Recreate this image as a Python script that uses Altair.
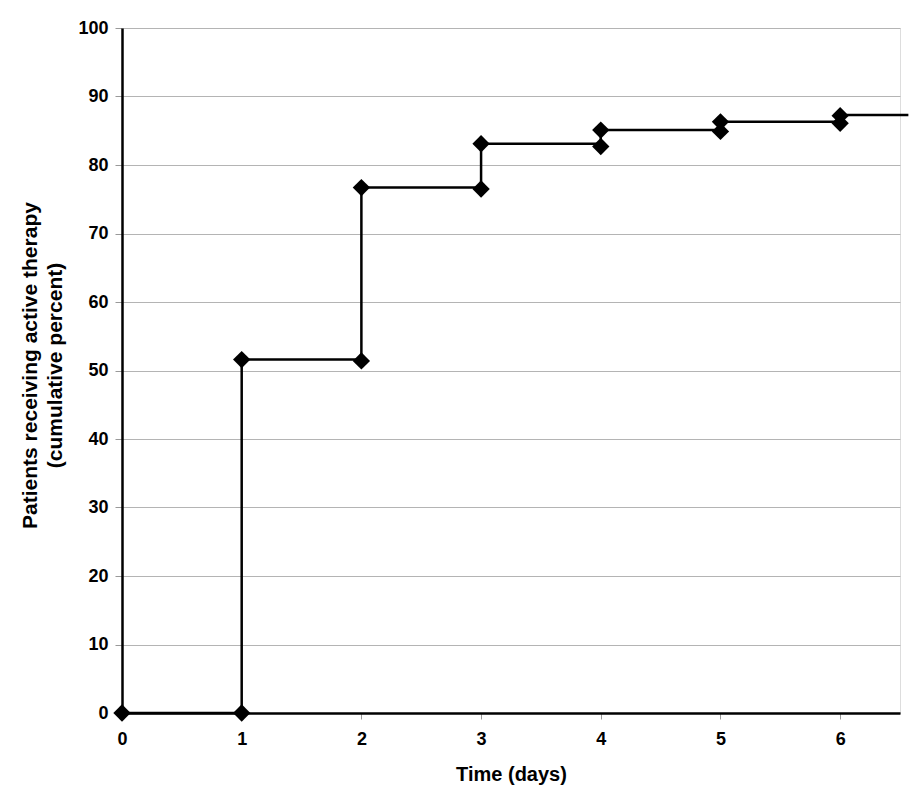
import altair as alt
import pandas as pd

# Marker points (day, cumulative percent)
marker_days = [0, 1, 1, 2, 2, 3, 3, 4, 4, 5, 5, 6, 6]
marker_pct = [0, 0, 51.6, 51.4, 76.7, 76.5, 83.1, 82.7, 85.1, 84.9, 86.3, 86.1, 87.2]

# Step line vertices (day, cumulative percent)
line_days = [0, 1, 1, 2, 2, 3, 3, 4, 4, 5, 5, 6, 6, 6.57]
line_pct = [0, 0, 51.6, 51.6, 76.7, 76.7, 83.1, 83.1, 85.1, 85.1, 86.3, 86.3, 87.3, 87.3]

x_ticks = [0, 1, 2, 3, 4, 5, 6]
y_ticks = [0, 10, 20, 30, 40, 50, 60, 70, 80, 90, 100]

markers = pd.DataFrame({"day": marker_days, "pct": marker_pct})
line = pd.DataFrame({"day": line_days, "pct": line_pct, "order": list(range(len(line_days)))})

FONT = "Liberation Sans"

x_scale = alt.Scale(domain=[0, 6.5], nice=False, zero=False)
y_scale = alt.Scale(domain=[0, 100], nice=False)

x_axis = alt.Axis(
    values=x_ticks, title="Time (days)", grid=False, format="d",
    labelFont=FONT, labelFontSize=18, labelFontWeight="bold", labelColor="black",
    titleFont=FONT, titleFontSize=20, titleFontWeight="bold", titleColor="black",
    tickColor="#999999", tickSize=6, labelPadding=11, titlePadding=16,
    domainColor="black", domainWidth=2.5, labelFlush=False,
)
y_axis = alt.Axis(
    values=y_ticks, title=["Patients receiving active therapy", "(cumulative percent)"],
    grid=True, gridColor="#b4b4b4", gridWidth=1,
    labelFont=FONT, labelFontSize=18, labelFontWeight="bold", labelColor="black",
    titleFont=FONT, titleFontSize=21, titleFontWeight="bold", titleColor="black",
    titleLineHeight=25, titleX=-82, titleY=337,
    tickColor="#999999", tickSize=7, labelPadding=7,
    domainColor="black", domainWidth=2.5,
)

line_layer = alt.Chart(line).mark_line(color="black", strokeWidth=2.5, clip=False).encode(
    x=alt.X("day:Q", scale=x_scale, axis=x_axis),
    y=alt.Y("pct:Q", scale=y_scale, axis=y_axis),
    order="order:Q",
)

point_layer = alt.Chart(markers).mark_point(
    shape="diamond", filled=True, color="black", size=300, opacity=1
).encode(
    x=alt.X("day:Q", scale=x_scale),
    y=alt.Y("pct:Q", scale=y_scale),
)

chart = alt.layer(line_layer, point_layer).properties(
    width=778, height=685,
    autosize=alt.AutoSizeParams(type="none"),
    padding={"left": 114, "top": 20, "right": 13, "bottom": 74},
).configure_view(stroke="black", strokeWidth=2.5).configure(background="white")

chart.save("out.html", embed_options={"renderer": "svg", "actions": False})
